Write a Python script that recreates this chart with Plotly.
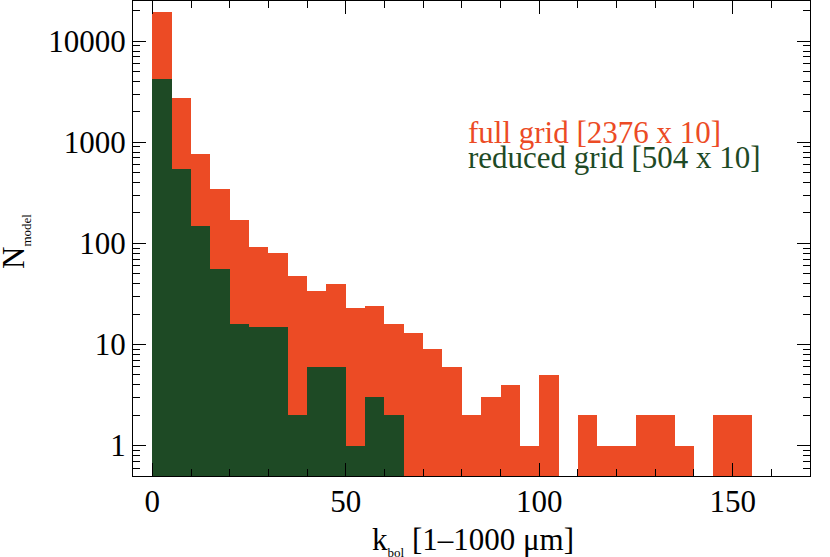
import plotly.graph_objects as go

# histogram of k_bol, bins of width 5 starting at 0
bin_width = 5
bin_left = list(range(0, 155, 5))

full_counts = [19300, 2760, 771, 348, 169, 93, 81, 48, 34, 40, 23, 24, 16, 13, 9, 6,
               2, 3, 4, 1, 5, 0, 2, 1, 1, 2, 2, 1, 0, 2, 2]
reduced_counts = [4230, 544, 148, 56, 16, 15, 15, 2, 6, 6, 1, 3, 2]

y_tickvals = [1, 10, 100, 1000, 10000]
x_tickvals = [0, 50, 100, 150]

orange = '#EC4B25'
green = '#1E4A25'
font_family = 'Liberation Serif'

W, H = 830, 557
ML, MR, MT, MB = 133, 20, 1, 81


def centers(counts):
    return [bin_left[i] + bin_width / 2 for i in range(len(counts))]


def nz(counts):
    return [c if c > 0 else None for c in counts]


def px_to_paper(px, py):
    # pixel position in the figure -> paper coordinates
    return (px - ML) / (W - ML - MR), (H - MB - py) / (H - MT - MB)


# minor log ticks at 2..9 of each decade
y_minor = [m * d for d in [0.1, 1, 10, 100, 1000, 10000] for m in range(2, 10)]

fig = go.Figure()

fig.add_trace(go.Bar(
    x=centers(full_counts),
    y=nz(full_counts),
    width=bin_width,
    marker=dict(color=orange, line=dict(width=0)),
    showlegend=False
))

fig.add_trace(go.Bar(
    x=centers(reduced_counts),
    y=nz(reduced_counts),
    width=bin_width,
    marker=dict(color=green, line=dict(width=0)),
    showlegend=False
))

fig.add_annotation(x=81.0, y=3.095, xref='x', yref='y', text='full grid [2376 x 10]',
                   showarrow=False, xanchor='left', yanchor='middle',
                   font=dict(color=orange, size=31, family=font_family))
fig.add_annotation(x=81.0, y=2.845, xref='x', yref='y', text='reduced grid [504 x 10]',
                   showarrow=False, xanchor='left', yanchor='middle',
                   font=dict(color=green, size=31, family=font_family))

# axis titles as annotations for exact placement
tx, ty = px_to_paper(473, 541)
fig.add_annotation(x=tx, y=ty, xref='paper', yref='paper',
                   text='k<sub><span style="font-size:13px">bol</span></sub> [1\u20131000 \u03bcm]',
                   showarrow=False, xanchor='center', yanchor='middle',
                   font=dict(size=31, family=font_family, color='black'))
tx, ty = px_to_paper(15, 242)
fig.add_annotation(x=tx, y=ty, xref='paper', yref='paper',
                   text='N<sub><span style="font-size:13px">model</span></sub>',
                   showarrow=False, xanchor='center', yanchor='middle', textangle=-90,
                   font=dict(size=31, family=font_family, color='black'))

fig.update_layout(
    width=W,
    height=H,
    margin=dict(l=ML, r=MR, t=MT, b=MB),
    barmode='overlay',
    bargap=0,
    plot_bgcolor='white',
    paper_bgcolor='white',
    font=dict(family=font_family, size=31, color='black'),
)

fig.update_xaxes(
    range=[-5, 170],
    tickvals=x_tickvals,
    ticks='inside',
    ticklen=13,
    tickcolor='black',
    showline=True,
    linecolor='black',
    linewidth=1,
    mirror='allticks',
    showgrid=False,
    zeroline=False,
    automargin=False,
    ticklabelstandoff=-2,
    minor=dict(dtick=10, tick0=0, ticks='inside', ticklen=7, tickcolor='black', showgrid=False),
)

fig.update_yaxes(
    type='log',
    range=[-0.301, 4.398],
    tickvals=y_tickvals,
    ticktext=[str(v) for v in y_tickvals],
    ticks='inside',
    ticklen=13,
    tickcolor='black',
    showline=True,
    linecolor='black',
    linewidth=1,
    mirror='allticks',
    showgrid=False,
    zeroline=False,
    automargin=False,
    ticklabelstandoff=0,
    minor=dict(tickvals=y_minor, ticks='inside', ticklen=7, tickcolor='black', showgrid=False),
)

fig.write_html("out.html", config={'displayModeBar': False},
               post_script="document.body.style.margin='0';")
